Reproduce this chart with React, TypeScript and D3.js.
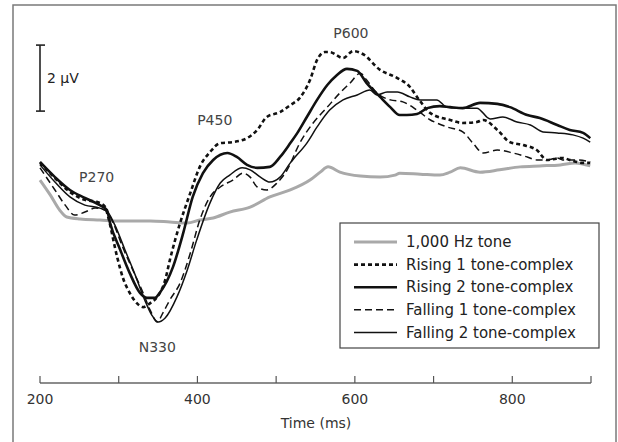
import React from "react";
import * as d3 from "d3";

// Time (ms) / amplitude (µV) pairs
const toneT = [200,213,225,234,251,276,302,340,365,387,403,420,441,467,492,518,543,556,566,581,607,632,651,657,683,708,721,734,759,784,810,835,861,880,899];
const toneV = [1.21,0.76,0.30,0.09,0.03,0,-0.03,-0.03,-0.06,-0.09,0,0.06,0.24,0.39,0.70,0.91,1.21,1.45,1.61,1.45,1.33,1.30,1.36,1.42,1.39,1.36,1.45,1.58,1.45,1.52,1.61,1.64,1.67,1.73,1.64];

const rising1T = [200,219,238,257,272,283,286,298,305,314,323,331,340,349,359,365,378,391,403,416,429,445,463,476,488,505,518,530,543,552,562,568,585,598,610,632,654,670,679,696,721,737,755,763,781,797,814,831,844,864,873,890,899];
const rising1V = [1.73,1.27,0.85,0.61,0.55,0.39,0.15,-1.12,-1.73,-2.21,-2.52,-2.64,-2.52,-2.33,-1.82,-1.21,-0.09,0.82,1.61,2.06,2.33,2.36,2.48,2.73,3.12,3.27,3.48,3.70,4.24,4.85,5.09,5.09,4.91,5.12,5.03,4.55,4.30,4.03,3.73,3.24,3.03,2.94,2.97,3.03,2.73,2.36,2.27,2.12,1.82,1.88,1.82,1.73,1.73];

const rising2T = [200,219,238,257,276,285,289,302,314,327,336,346,352,369,382,394,407,420,438,450,463,476,492,505,518,527,539,552,565,577,590,603,615,632,645,657,666,679,692,708,721,737,759,781,797,819,835,857,873,890,899];
const rising2V = [1.76,1.30,0.91,0.67,0.45,0.30,-0.09,-0.91,-1.61,-2.21,-2.36,-2.36,-2.21,-1.42,-0.39,0.70,1.42,1.82,2.03,1.91,1.67,1.58,1.61,1.91,2.33,2.64,3.12,3.64,4.09,4.39,4.58,4.52,4.15,3.73,3.42,3.18,3.18,3.21,3.39,3.45,3.42,3.39,3.55,3.52,3.42,3.18,3.09,2.88,2.73,2.64,2.48];

const falling1T = [200,219,232,244,257,270,283,293,305,318,331,340,349,356,365,378,391,403,416,429,445,458,467,476,488,501,514,530,547,565,581,594,607,615,628,645,661,679,696,704,717,737,750,763,781,801,819,831,844,857,864,882,899];
const falling1V = [1.58,0.91,0.45,0.15,0.24,0.36,0.30,-0.09,-0.82,-1.52,-2.21,-2.73,-3.09,-2.82,-2.42,-1.91,-1.0,0,0.70,1.00,1.21,1.42,1.30,1.00,0.91,1.12,1.52,2.33,2.94,3.42,3.85,4.15,4.45,4.24,3.85,3.64,3.58,3.33,3.03,2.94,2.82,2.67,2.33,2.03,2.12,2.03,1.91,1.82,1.82,1.88,1.82,1.82,1.76];

const falling2T = [200,219,238,257,276,286,295,308,321,333,342,350,359,374,387,399,416,429,441,457,467,480,492,505,518,521,539,552,568,585,603,619,628,641,654,670,683,704,717,737,755,772,788,806,823,839,857,877,890,899];
const falling2V = [1.67,1.15,0.70,0.45,0.36,0.24,-0.15,-0.91,-1.67,-2.42,-2.88,-3.09,-2.97,-2.33,-1.52,-0.61,0.52,1.12,1.36,1.58,1.52,1.30,1.15,1.30,1.73,1.82,2.33,2.82,3.33,3.64,3.79,3.94,3.79,3.88,3.88,3.73,3.64,3.64,3.42,3.39,3.39,3.06,3.12,2.97,2.88,2.67,2.64,2.58,2.48,2.36];

const seriesNames = ["1,000 Hz tone", "Rising 1 tone-complex", "Rising 2 tone-complex", "Falling 1 tone-complex", "Falling 2 tone-complex"];
const tickValues = [200, 300, 400, 500, 600, 700, 800, 900];
const tickLabels = ["200", "", "400", "", "600", "", "800", ""];
const peakLabels = ["P270", "N330", "P450", "P600"];
const peakT = [272, 349, 422, 595];
const peakV = [1.30, -3.85, 3.03, 5.67];

const styles = [
  { stroke: "#a9a9a9", width: 3, dash: "" },
  { stroke: "#111", width: 2.6, dash: "4,3" },
  { stroke: "#111", width: 2.6, dash: "" },
  { stroke: "#111", width: 1.5, dash: "7,4" },
  { stroke: "#111", width: 1.5, dash: "" },
];

const FONT = "'DejaVu Sans', 'Open Sans', sans-serif";

export default function App() {
  const W = 618, H = 442;
  const x = d3.scaleLinear().domain([200, 900]).range([40, 591]);
  const y = d3.scaleLinear().domain([0, 2]).range([220, 154]);
  const line = d3.line<[number, number]>()
    .x(d => x(d[0]))
    .y(d => y(d[1]))
    .curve(d3.curveMonotoneX);

  const data: [number, number][][] = [
    toneT.map((t, i) => [t, toneV[i]]),
    rising1T.map((t, i) => [t, rising1V[i]]),
    rising2T.map((t, i) => [t, rising2V[i]]),
    falling1T.map((t, i) => [t, falling1V[i]]),
    falling2T.map((t, i) => [t, falling2V[i]]),
  ];

  const axisY = 383;
  const barTop = y(5.3), barBot = y(3.3);
  const legX = 340, legY = 223, legW = 259, legH = 125;

  return (
    <svg width={W} height={H} style={{ position: "absolute", left: 0, top: 0, background: "#fff" }}>
      <rect x={13} y={5} width={603} height={445} fill="#fff" stroke="#7a7a7a" strokeWidth={1.5} />

      {/* scale bar */}
      <g stroke="#222" strokeWidth={1.6}>
        <line x1={40} x2={40} y1={barTop} y2={barBot} />
        <line x1={36} x2={45} y1={barTop} y2={barTop} />
        <line x1={36} x2={45} y1={barBot} y2={barBot} />
      </g>
      <text x={47} y={(barTop + barBot) / 2} dy="0.35em" fontFamily={FONT} fontSize={14} fill="#222">2 µV</text>

      {/* curves, drawn gray first */}
      {data.map((d, i) => (
        <path key={i} d={line(d) || ""} fill="none" stroke={styles[i].stroke}
          strokeWidth={styles[i].width} strokeDasharray={styles[i].dash}
          strokeLinejoin="round" />
      ))}

      {/* peak labels */}
      {peakLabels.map((l, i) => (
        <text key={l} x={x(peakT[i])} y={y(peakV[i])} dy="0.35em" textAnchor="middle"
          fontFamily={FONT} fontSize={14} fill="#444">{l}</text>
      ))}

      {/* x axis */}
      <line x1={x(200)} x2={x(900)} y1={axisY} y2={axisY} stroke="#666" strokeWidth={1.6} />
      {tickValues.map((t, i) => (
        <g key={t}>
          <line x1={x(t)} x2={x(t)} y1={axisY} y2={axisY - 7} stroke="#555" strokeWidth={1.2} />
          {tickLabels[i] && (
            <text x={x(t)} y={399} dy="0.35em" textAnchor="middle" fontFamily={FONT} fontSize={14} fill="#333">{tickLabels[i]}</text>
          )}
        </g>
      ))}
      <text x={316} y={423} dy="0.35em" textAnchor="middle" fontFamily={FONT} fontSize={14} fill="#333">Time (ms)</text>

      {/* legend */}
      <rect x={legX} y={legY} width={legW} height={legH} fill="#fff" stroke="#444" strokeWidth={1.2} />
      {seriesNames.map((n, i) => {
        const yy = 242 + i * 22.6;
        return (
          <g key={n}>
            <line x1={354} x2={397} y1={yy} y2={yy} stroke={styles[i].stroke}
              strokeWidth={styles[i].width} strokeDasharray={styles[i].dash} />
            <text x={406} y={yy} dy="0.35em" fontFamily={FONT} fontSize={15} fill="#222">{n}</text>
          </g>
        );
      })}
    </svg>
  );
}
